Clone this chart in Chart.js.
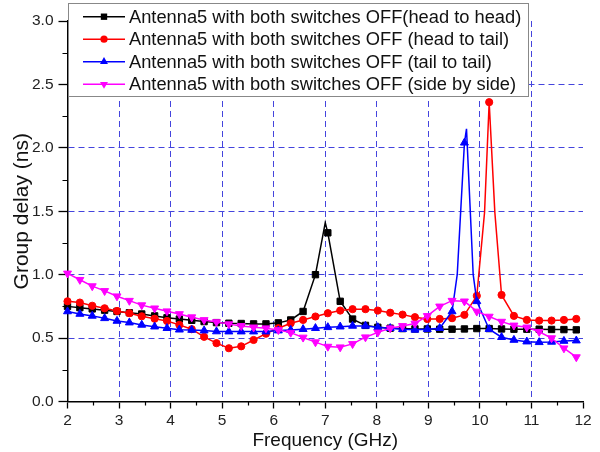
<!DOCTYPE html>
<html>
<head>
<meta charset="utf-8">
<script src="https://cdn.jsdelivr.net/npm/chart.js@4.4.1/dist/chart.umd.min.js"></script>
<style>
body { margin: 0; background: #fff; }
#wrap { width: 600px; height: 452px; }
</style>
</head>
<body>
<div id="wrap"><canvas id="delay" width="600" height="452"></canvas></div>
<script>
// marker positions (GHz), same for the four traces
var freq = [2.00, 2.24, 2.48, 2.72, 2.96, 3.20, 3.44, 3.69, 3.93, 4.17, 4.41, 4.65, 4.89, 5.13,
    5.37, 5.61, 5.85, 6.09, 6.33, 6.57, 6.81, 7.05, 7.29, 7.53, 7.78, 8.02, 8.26, 8.50,
    8.74, 8.98, 9.22, 9.46, 9.70, 9.94, 10.18, 10.42, 10.66, 10.91, 11.15, 11.39, 11.63, 11.87];

// group delay (ns)
var headHead = [.75, .74, .73, .72, .71, .70, .69, .675, .66, .65, .64, .63, .622, .617,
    .615, .612, .612, .62, .643, .71, 1.00, 1.33, .79, .65, .60, .585, .578, .575,
    .572, .572, .57, .57, .572, .575, .575, .572, .57, .57, .57, .568, .567, .565];
var headTail = [.79, .78, .755, .735, .714, .696, .672, .653, .635, .604, .57, .51, .46, .42,
    .435, .485, .535, .578, .617, .643, .67, .696, .717, .728, .728, .717, .70, .685,
    .665, .65, .651, .657, .683, .833, 2.36, .84, .675, .643, .638, .638, .643, .651];
var tailTail = [.71, .69, .675, .656, .635, .622, .604, .59, .578, .566, .564, .559, .552, .551,
    .551, .551, .551, .559, .564, .57, .578, .585, .59, .596, .596, .585, .578, .57,
    .565, .57, .578, .71, 2.04, .79, .57, .507, .485, .472, .467, .47, .477, .48];
var sideSide = [1.01, .96, .91, .872, .83, .795, .76, .735, .712, .69, .665, .643, .627, .61,
    .596, .585, .578, .564, .543, .505, .468, .433, .428, .454, .507, .545, .578, .596,
    .615, .675, .75, .795, .79, .71, .67, .63, .60, .585, .55, .50, .42, .35];

// extra points on the resonance peaks (no marker drawn there)
var headHeadPeakF = [7.00], headHeadPeakV = [1.41];
var headTailPeakF = [10.09, 10.29], headTailPeakV = [1.49, 1.49];
var tailTailPeakF = [9.56, 9.74, 9.87], tailTailPeakV = [1.0, 2.15, 1.0];

var seriesLabels = [
    'Antenna5 with both switches OFF(head to head)',
    'Antenna5 with both switches OFF (head to tail)',
    'Antenna5 with both switches OFF (tail to tail)',
    'Antenna5 with both switches OFF (side by side)'
];

var gridBlue = '#4444dd';
var fontFam = '"Liberation Sans", Arial, sans-serif';

function points(vals, pf, pv) {
    var pts = freq.map(function (f, i) { return {x: f, y: vals[i]}; });
    (pf || []).forEach(function (f, i) { pts.push({x: f, y: pv[i], bare: true}); });
    pts.sort(function (a, b) { return a.x - b.x; });
    return pts;
}

function isMajor(v, step) {
    var q = v / step;
    return Math.abs(q - Math.round(q)) < 1e-9;
}

function markerRadius(r) {
    return function (ctx) { return ctx.raw && ctx.raw.bare ? 0 : r; };
}

function drawMarker(c, ds, x, y) {
    var r = ds.legendRadius;
    c.fillStyle = ds.borderColor;
    c.beginPath();
    if (ds.pointStyle === 'rect') {
        var s = r * Math.SQRT1_2;
        c.rect(x - s, y - s, 2 * s, 2 * s);
    } else if (ds.pointStyle === 'circle') {
        c.arc(x, y, r, 0, Math.PI * 2);
    } else {
        var d = ds.pointRotation === 180 ? -1 : 1;
        c.moveTo(x, y - d * r);
        c.lineTo(x + r * 0.866, y + d * r * 0.5);
        c.lineTo(x - r * 0.866, y + d * r * 0.5);
        c.closePath();
    }
    c.fill();
}

// short minor ticks (half steps) that Chart.js does not draw itself
var minorTicks = {
    id: 'minorTicks',
    afterDraw: function (chart) {
        var c = chart.ctx, xs = chart.scales.x, ys = chart.scales.y;
        c.save();
        c.strokeStyle = '#000';
        c.lineWidth = 1.2;
        c.beginPath();
        xs.ticks.forEach(function (t) {
            if (isMajor(t.value, 1)) return;
            var px = Math.round(xs.getPixelForValue(t.value)) + 0.5;
            c.moveTo(px, ys.bottom);
            c.lineTo(px, ys.bottom + 4);
        });
        ys.ticks.forEach(function (t) {
            if (isMajor(t.value, 0.5)) return;
            var py = Math.round(ys.getPixelForValue(t.value)) + 0.5;
            c.moveTo(xs.left, py);
            c.lineTo(xs.left - 5, py);
        });
        c.stroke();
        c.restore();
    }
};

var legendBox = {
    id: 'legendBox',
    afterDraw: function (chart) {
        var c = chart.ctx;
        c.save();
        c.fillStyle = '#fff';
        c.strokeStyle = '#888';
        c.lineWidth = 1;
        c.fillRect(68.5, 3.5, 460, 93);
        c.strokeRect(68.5, 3.5, 460, 93);
        chart.data.datasets.forEach(function (ds, i) {
            var y = 16.7 + i * 22.5;
            c.strokeStyle = ds.borderColor;
            c.lineWidth = 1.5;
            c.beginPath();
            c.moveTo(83, y);
            c.lineTo(125, y);
            c.stroke();
            drawMarker(c, ds, 104, y);
            c.fillStyle = '#111';
            c.font = '18.3px ' + fontFam;
            c.textBaseline = 'middle';
            c.fillText(ds.label, 129, y + 1);
        });
        c.restore();
    }
};

function series(label, vals, pf, pv, color, style, rot, r, order) {
    return {
        label: label,
        data: points(vals, pf, pv),
        borderColor: color,
        backgroundColor: color,
        borderWidth: 1.5,
        pointStyle: style,
        pointRotation: rot,
        pointRadius: markerRadius(r),
        pointBorderWidth: 1,
        legendRadius: r,
        tension: 0,
        clip: false,
        order: order
    };
}

var ctx = document.getElementById('delay');
var delayChart = new Chart(ctx, {
    type: 'line',
    data: {
        datasets: [
            series(seriesLabels[0], headHead, headHeadPeakF, headHeadPeakV, '#000000', 'rect', 0, 4.5, 3),
            series(seriesLabels[1], headTail, headTailPeakF, headTailPeakV, '#ff0000', 'circle', 0, 3.6, 2),
            series(seriesLabels[2], tailTail, tailTailPeakF, tailTailPeakV, '#0000ff', 'triangle', 0, 4.6, 1),
            series(seriesLabels[3], sideSide, null, null, '#ff00ff', 'triangle', 180, 4.6, 0)
        ]
    },
    options: {
        responsive: false,
        animation: false,
        events: [],
        layout: { padding: { left: 0, right: 17, top: 21, bottom: 0 } },
        plugins: { legend: { display: false }, tooltip: { enabled: false } },
        scales: {
            x: {
                type: 'linear',
                min: 2, max: 12,
                afterFit: function (s) { s.height = 50.5; },
                ticks: {
                    stepSize: 0.5, autoSkip: false, maxRotation: 0, padding: 3,
                    color: '#222', font: { family: fontFam, size: 15.5 },
                    callback: function (v) { return isMajor(v, 1) ? String(v) : ''; }
                },
                grid: {
                    color: function (c) {
                        var v = c.tick.value;
                        return (v > 2 && v < 12 && isMajor(v, 1)) ? gridBlue : 'transparent';
                    },
                    tickColor: function (c) { return isMajor(c.tick.value, 1) ? '#000' : 'transparent'; },
                    tickLength: 7, tickWidth: 1.3, lineWidth: 1
                },
                border: { color: '#000', width: 1.5, dash: [6, 4] },
                title: {
                    display: true, text: 'Frequency (GHz)', color: '#111',
                    font: { family: fontFam, size: 19 }, padding: { top: 0, bottom: 0 }
                }
            },
            y: {
                min: 0, max: 3,
                afterFit: function (s) { s.width = 67.5; },
                ticks: {
                    stepSize: 0.25, autoSkip: false, padding: 5,
                    color: '#222', font: { family: fontFam, size: 15.5 },
                    callback: function (v) { return isMajor(v, 0.5) ? v.toFixed(1) : ''; }
                },
                grid: {
                    color: function (c) {
                        var v = c.tick.value;
                        return (v > 0 && v < 3 && isMajor(v, 0.5)) ? gridBlue : 'transparent';
                    },
                    tickColor: function (c) { return isMajor(c.tick.value, 0.5) ? '#000' : 'transparent'; },
                    tickLength: 9, tickWidth: 1.3, lineWidth: 1
                },
                border: { color: '#000', width: 1.5, dash: [6, 4] },
                title: {
                    display: true, text: 'Group delay (ns)', color: '#111',
                    font: { family: fontFam, size: 21 }, padding: { top: 10, bottom: 0 }
                }
            }
        }
    },
    plugins: [minorTicks, legendBox]
});
</script>
</body>
</html>
